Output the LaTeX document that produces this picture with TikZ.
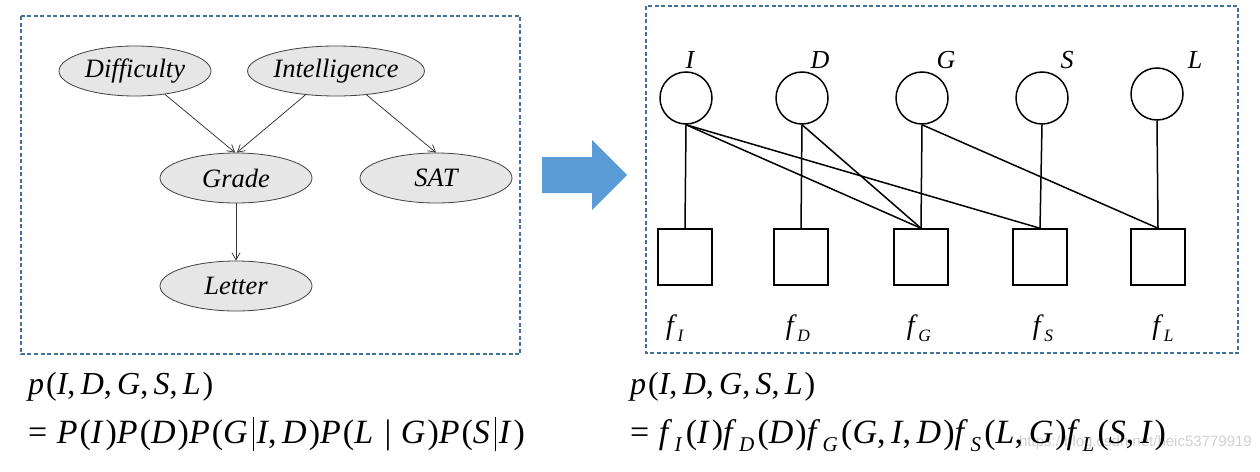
\documentclass[tikz,border=0pt]{standalone}
\usepackage{fontspec}
\setmainfont{Liberation Serif}
\newfontfamily\wmfont{Liberation Sans}
\newfontfamily\eqfont[LetterSpace=6]{Liberation Serif}
\usetikzlibrary{arrows.meta,shapes.geometric}
\definecolor{boxblue}{HTML}{41719C}
\definecolor{arrowblue}{HTML}{5B9BD5}
\definecolor{nodegray}{HTML}{E6E6E6}
\newcommand\Fsub[1]{\textit{f}\kern0.5pt\raisebox{-0.24em}{\scalebox{0.62}{\textit{#1}}}}
\newcommand\Fsq[1]{\textit{f}\kern0.5pt\raisebox{-0.24em}{\scalebox{0.62}{\textit{#1}}}\kern2pt}
\newcommand\tbar{\kern3pt\rule[-8pt]{1pt}{34pt}\kern3pt}
\begin{document}
\begin{tikzpicture}[x=1pt,y=-1pt,
  panel/.style={draw=boxblue,line width=1.5pt,dash pattern=on 4pt off 2.5pt},
  bnnode/.style={ellipse,draw=black!75,fill=nodegray,line width=0.8pt,minimum width=152pt,minimum height=50pt,inner sep=0pt,font=\fontsize{26.5}{26.5}\selectfont\itshape},
  bnedge/.style={draw=black!80,line width=0.75pt,-{Straight Barb[length=7pt,width=8pt]}},
  varnode/.style={circle,draw,line width=1.5pt,minimum size=52pt,inner sep=0pt},
  facnode/.style={rectangle,draw,line width=1.5pt,minimum width=54pt,minimum height=56pt,inner sep=0pt},
  fedge/.style={draw,line width=1.5pt},
  varlab/.style={font=\fontsize{26}{26}\selectfont\itshape,inner sep=0pt},
  faclab/.style={font=\fontsize{28}{28}\selectfont,inner sep=0pt},
  formula/.style={font=\eqfont\fontsize{32}{32}\selectfont,inner sep=0pt,anchor=base west},
  formulab/.style={font=\eqfont\fontsize{34}{34}\selectfont,inner sep=0pt,anchor=base west}]
\useasboundingbox (0,0) rectangle (1260,471);
\fill[white] (0,0) rectangle (1260,471);
% panels
\draw[panel] (21,16) rectangle (520,354);
\draw[panel] (646,6) rectangle (1238,353);
% left Bayesian network
\node[bnnode] (Dif) at (135,71) {Difficulty};
\node[bnnode] (Int) at (336,71) {Intelligence};
\node[bnnode] (Gra) at (236,178) {Grade};
\node[bnnode] (SAT) at (436,178) {SAT};
\node[bnnode] (Let) at (236,286) {Letter};
\draw[bnedge] (Dif.-38) -- (Gra.92);
\draw[bnedge] (Int.-142) -- (Gra.88);
\draw[bnedge] (Int.-38) -- (SAT.north);
\draw[bnedge] (Gra.south) -- (Let.north);
% big arrow
\fill[arrowblue] (542,157) -- (592,157) -- (592,140) -- (627,175) -- (592,210) -- (592,193) -- (542,193) -- cycle;
% factor graph
\node[varnode] (vI) at (686,98) {};
\node[varnode] (vD) at (802,98) {};
\node[varnode] (vG) at (922,98) {};
\node[varnode] (vS) at (1042,98) {};
\node[varnode] (vL) at (1157,94) {};
\node[varlab] (lI) at (690,60) {I};
\node[varlab] (lD) at (820,60) {D};
\node[varlab] (lG) at (946,60) {G};
\node[varlab] (lS) at (1067,60) {S};
\node[varlab] (lL) at (1195,60) {L};
\node[facnode] (fI) at (685,257) {};
\node[facnode] (fD) at (801,257) {};
\node[facnode] (fG) at (921,257) {};
\node[facnode] (fS) at (1040,257) {};
\node[facnode] (fL) at (1158,257) {};
\node[faclab] (tI) at (675,328) {\Fsub{I}};
\node[faclab] (tD) at (798,328) {\Fsub{D}};
\node[faclab] (tG) at (919,328) {\Fsub{G}};
\node[faclab] (tS) at (1043,328) {\Fsub{S}};
\node[faclab] (tL) at (1163,328) {\Fsub{L}};
\draw[fedge] (vI.south) -- (fI.north);
\draw[fedge] (vI.south) -- (fG.north);
\draw[fedge] (vI.south) -- (fS.north);
\draw[fedge] (vD.south) -- (fD.north);
\draw[fedge] (vD.south) -- (fG.north);
\draw[fedge] (vG.south) -- (fG.north);
\draw[fedge] (vG.south) -- (fL.north);
\draw[fedge] (vS.south) -- (fS.north);
\draw[fedge] (vL.south) -- (fL.north);
% watermark
\node[font=\wmfont\fontsize{15}{15}\selectfont,text=black!18,anchor=base east,inner sep=0pt] (wm) at (1252,446) {https://blog.csdn.net/heic53779919};
% formulas
\node[formula] (eqL1) at (28,394) {\textit{p}(\textit{I},\,\textit{D},\,\textit{G},\,\textit{S},\,\textit{L})};
\node[formulab] (eqL2) at (28,443) {=\;\textit{P}(\textit{I})\textit{P}(\textit{D})\textit{P}(\textit{G}\tbar\textit{I},\,\textit{D})\textit{P}(\textit{L}\;|\;\textit{G})\textit{P}(\textit{S}\tbar\textit{I})};
\node[formula] (eqR1) at (630,394) {\textit{p}(\textit{I},\,\textit{D},\,\textit{G},\,\textit{S},\,\textit{L})};
\node[formulab] (eqR2) at (630,443) {=\;\Fsq{I}(\textit{I})\Fsq{D}(\textit{D})\Fsq{G}(\textit{G},\,\textit{I},\,\textit{D})\Fsq{S}(\textit{L},\,\textit{G})\Fsq{L}(\textit{S},\,\textit{I})};
\end{tikzpicture}
\end{document}
